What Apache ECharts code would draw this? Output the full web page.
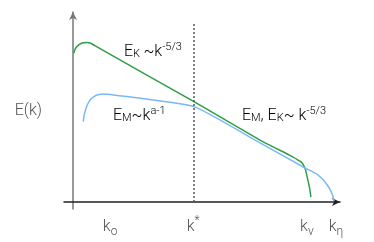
<!DOCTYPE html>
<html><head><meta charset="utf-8">
<script src="https://cdn.jsdelivr.net/npm/echarts@6/dist/echarts.min.js"></script>
<style>html,body{margin:0;padding:0;background:#fff}#c{width:374px;height:242px}</style>
</head><body><div id="c"></div>
<script>
// log-k (0..100) and log-E (0..100) in arbitrary units
const kineticK = [0.37, 0.75, 1.31, 2.06, 3.0, 4.12, 5.24, 6.37, 7.49, 8.99, 45.32, 70.04, 81.27, 83.9, 85.4, 86.3, 87.1, 87.8, 88.6, 89.1];
const kineticE = [78.4, 80.3, 81.6, 82.6, 83.4, 83.8, 83.9, 83.7, 82.9, 81.6, 52.8, 32.6, 24.5, 22.4, 21.1, 19.5, 16.8, 12.6, 7.4, 2.6];
const magneticK = [3.86, 4.12, 4.68, 5.43, 6.55, 7.87, 9.36, 11.24, 13.86, 45.32, 70.04, 86.89, 89.5, 91.8, 93.6, 95.1, 96.4, 97.2, 97.75];
const magneticE = [42.3, 45.3, 48.4, 51.3, 53.9, 55.5, 56.4, 56.8, 56.6, 50.2, 31.1, 17.9, 16.1, 14.2, 11.8, 9.2, 6.3, 3.7, 0.5];
const kStar = 45.3;
const kStarTop = 93.7;
const tickValues = [13.9, 45.0, 87.6, 98.5];
const tickLabels = ['{k|k}{sub|o}', '{k|k}{sup|*}', '{k|k}{sub|v}', '{k|k}{sub|η}'];

const FONT = 'Roboto';
const chart = echarts.init(document.getElementById('c'), null, {renderer: 'canvas'});
const zip = (a, b) => a.map((v, i) => [v, b[i]]);
const rich = (color) => ({
  b: {fontSize: 16, color, fontFamily: FONT, fontWeight: 300, lineHeight: 20, verticalAlign: 'bottom'},
  sub: {fontSize: 11, color, fontFamily: FONT, fontWeight: 300, lineHeight: 20, verticalAlign: 'bottom'},
  sup: {fontSize: 11, color, fontFamily: FONT, fontWeight: 300, lineHeight: 20, verticalAlign: 'top', padding: [2, 0, 0, 0]}
});
chart.setOption({
  animation: false,
  grid: {left: 64, right: 34, top: 12, bottom: 33},
  xAxis: {
    type: 'value', min: -3.37, max: 100,
    splitLine: {show: false},
    axisLine: {onZero: true, lineStyle: {color: '#222', width: 1.5}, symbol: ['none', 'arrow'], symbolSize: [6, 8]},
    axisTick: {show: false},
    axisLabel: {
      customValues: tickValues, margin: 6,
      formatter: (v) => tickLabels[tickValues.indexOf(v)] || '',
      rich: {
        k: {fontSize: 16, color: '#555', fontFamily: FONT, fontWeight: 300, lineHeight: 20, verticalAlign: 'bottom'},
        sub: {fontSize: 12, color: '#555', fontFamily: FONT, fontWeight: 300, lineHeight: 20, verticalAlign: 'bottom', padding: [0,0,-3,0]},
        sup: {fontSize: 12, color: '#555', fontFamily: FONT, fontWeight: 300, lineHeight: 20, verticalAlign: 'top'}
      }
    }
  },
  yAxis: {
    type: 'value', min: -3.68, max: 100,
    splitLine: {show: false},
    axisLine: {onZero: true, lineStyle: {color: '#777', width: 1.5}, symbol: ['none', 'arrow'], symbolSize: [6, 8]},
    axisTick: {show: false},
    axisLabel: {show: false},
    name: 'E(k)', nameLocation: 'middle', nameGap: 22, nameRotate: 0,
    nameTextStyle: {fontSize: 16, color: '#555', fontFamily: FONT, fontWeight: 300}
  },
  series: [
    {
      type: 'line', data: zip(kineticK, kineticE), smooth: 0.15, symbol: 'none',
      lineStyle: {color: '#2e9e45', width: 1.5},
      markLine: {
        silent: true, symbol: 'none', label: {show: false},
        lineStyle: {color: '#555', type: [2, 2], width: 1.5},
        data: [[{coord: [kStar, 0]}, {coord: [kStar, kStarTop]}]]
      }
    },
    {
      type: 'line', data: zip(magneticK, magneticE), smooth: 0.15, symbol: 'none',
      lineStyle: {color: '#79b8f4', width: 1.5}
    }
  ],
  graphic: [
    {type: 'text', x: 124, y: 40, style: {text: '{b|E}{sub|K} {b|~k}{sup|-5/3}', rich: rich('#3aa55a')}},
    {type: 'text', x: 113, y: 104, style: {text: '{b|E}{sub|M}{b|~k}{sup|a-1}', rich: rich('#8cc4f8')}},
    {type: 'text', x: 242, y: 104, style: {text: '{b|E}{sub|M}{b|, E}{sub|K}{b|~ k}{sup|-5/3}', rich: rich('#444')}}
  ]
});
</script></body></html>
